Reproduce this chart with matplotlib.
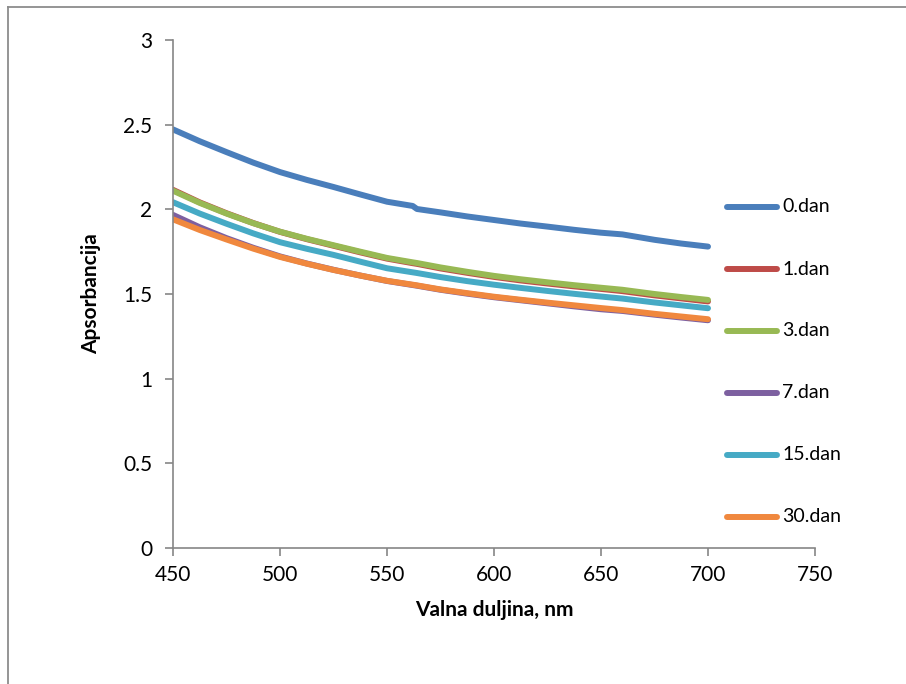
import matplotlib
matplotlib.use("Agg")
import matplotlib.pyplot as plt
from matplotlib.lines import Line2D

plt.rcParams['font.family'] = ['Lato', 'DejaVu Sans']

wl = [450, 462.5, 475, 487.5, 500, 512.5, 525, 537.5, 550, 562, 564,
      575, 587.5, 600, 612.5, 625, 637.5, 650, 660, 675, 687.5, 700]

dan0 = [2.472, 2.402, 2.338, 2.276, 2.220, 2.174, 2.132, 2.088, 2.045, 2.020, 2.002,
        1.982, 1.958, 1.937, 1.916, 1.898, 1.879, 1.862, 1.852, 1.820, 1.798, 1.780]
dan1 = [2.115, 2.041, 1.977, 1.919, 1.867, 1.824, 1.785, 1.746, 1.709, 1.682, 1.678,
        1.651, 1.625, 1.601, 1.580, 1.562, 1.545, 1.530, 1.517, 1.492, 1.474, 1.456]
dan3 = [2.110, 2.038, 1.975, 1.918, 1.868, 1.826, 1.788, 1.750, 1.713, 1.687, 1.683,
        1.657, 1.631, 1.607, 1.587, 1.569, 1.552, 1.537, 1.525, 1.500, 1.482, 1.465]
dan7 = [1.967, 1.894, 1.830, 1.773, 1.722, 1.680, 1.643, 1.609, 1.577, 1.553, 1.549,
        1.525, 1.502, 1.481, 1.463, 1.445, 1.427, 1.410, 1.400, 1.378, 1.361, 1.345]
dan15 = [2.042, 1.975, 1.915, 1.858, 1.806, 1.767, 1.731, 1.691, 1.652, 1.628, 1.624,
         1.600, 1.576, 1.555, 1.536, 1.518, 1.501, 1.485, 1.473, 1.450, 1.433, 1.416]
dan30 = [1.941, 1.878, 1.822, 1.768, 1.719, 1.679, 1.642, 1.609, 1.578, 1.555, 1.551,
         1.527, 1.505, 1.484, 1.466, 1.449, 1.433, 1.417, 1.405, 1.383, 1.367, 1.351]

labels = ['0.dan', '1.dan', '3.dan', '7.dan', '15.dan', '30.dan']
series = [dan0, dan1, dan3, dan7, dan15, dan30]
colors = ['#4A7EBB', '#BE4B48', '#98B954', '#7D60A0', '#46AAC5', '#F0883E']

xticks = [450, 500, 550, 600, 650, 700, 750]
yticks = [0, 0.5, 1, 1.5, 2, 2.5, 3]
ytick_labels = ['0', '0.5', '1', '1.5', '2', '2.5', '3']

fig = plt.figure(figsize=(9.06, 6.84), dpi=100)
ax = fig.add_axes([173/906, 1 - 548/684, (815 - 173)/906, (548 - 40)/684])

for y, c, lab in zip(series, colors, labels):
    ax.plot(wl, y, color=c, lw=4.3, solid_capstyle='round', solid_joinstyle='round', label=lab)

ax.set_xlim(450, 750)
ax.set_ylim(0, 3)
ax.set_xticks(xticks)
ax.set_yticks(yticks)
ax.set_yticklabels(ytick_labels)

gray = '#868686'
for s in ['top', 'right']:
    ax.spines[s].set_visible(False)
for s in ['left', 'bottom']:
    ax.spines[s].set_color(gray)
    ax.spines[s].set_linewidth(1.2)
ax.tick_params(direction='out', length=6, width=1.2, color=gray, labelsize=15, labelcolor='black')
ax.tick_params(axis='y', pad=9)
ax.tick_params(axis='x', pad=6)

ax.set_xlabel('Valna duljina, nm', fontsize=15, fontweight='bold', labelpad=11)
ax.set_ylabel('Apsorbancija', fontsize=15, fontweight='bold', labelpad=16)

# legend on the right, Excel style spacing
leg_y = [207, 269, 331, 393, 455, 517]
for yy, c, lab in zip(leg_y, colors, labels):
    yf = 1 - yy / 684
    fig.add_artist(Line2D([727/906, 777/906], [yf, yf], color=c, lw=4.3,
                          solid_capstyle='round', transform=fig.transFigure))
    fig.text(782/906, yf, lab, fontsize=14, va='center', ha='left')

# chart border (only top and left visible in the crop)
fig.add_artist(Line2D([8/906, 8/906], [0, 1 - 7/684], color='#8C8C8C', lw=1.3, transform=fig.transFigure))
fig.add_artist(Line2D([8/906, 1], [1 - 7/684, 1 - 7/684], color='#8C8C8C', lw=1.3, transform=fig.transFigure))

fig.savefig('out.png', dpi=100)
